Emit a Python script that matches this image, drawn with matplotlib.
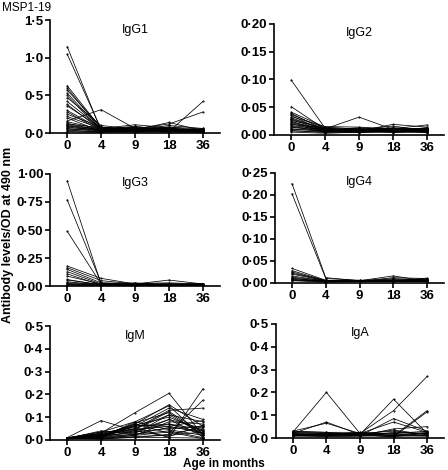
import numpy as np
import matplotlib
matplotlib.use("Agg")
import matplotlib.pyplot as plt

plt.rcParams['font.family'] = ['Liberation Sans', 'DejaVu Sans']

ages = ['0', '4', '9', '18', '36']

# one row per child: values at 0, 4, 9, 18, 36 months
igg1 = [
    [1.15, 0.03, 0.05, 0.06, 0.03], [1.05, 0.05, 0.04, 0.05, 0.02],
    [0.63, 0.06, 0.07, 0.04, 0.03], [0.60, 0.04, 0.05, 0.08, 0.05],
    [0.57, 0.08, 0.03, 0.05, 0.04], [0.53, 0.05, 0.06, 0.03, 0.02],
    [0.50, 0.03, 0.08, 0.06, 0.03], [0.47, 0.10, 0.05, 0.04, 0.05],
    [0.42, 0.06, 0.11, 0.07, 0.02], [0.38, 0.04, 0.04, 0.14, 0.03],
    [0.36, 0.07, 0.06, 0.12, 0.28], [0.30, 0.05, 0.09, 0.03, 0.04],
    [0.28, 0.03, 0.05, 0.02, 0.42], [0.25, 0.08, 0.04, 0.10, 0.06],
    [0.22, 0.06, 0.07, 0.05, 0.03], [0.20, 0.02, 0.03, 0.06, 0.02],
    [0.16, 0.31, 0.06, 0.04, 0.05], [0.15, 0.05, 0.04, 0.08, 0.03],
    [0.13, 0.03, 0.06, 0.05, 0.04], [0.12, 0.07, 0.02, 0.04, 0.02],
    [0.11, 0.04, 0.05, 0.03, 0.06], [0.10, 0.02, 0.03, 0.05, 0.02],
    [0.09, 0.06, 0.04, 0.02, 0.03], [0.08, 0.03, 0.02, 0.04, 0.01],
    [0.07, 0.05, 0.03, 0.03, 0.02], [0.06, 0.02, 0.04, 0.06, 0.01],
    [0.05, 0.04, 0.02, 0.02, 0.03], [0.04, 0.01, 0.03, 0.03, 0.01],
    [0.03, 0.02, 0.01, 0.02, 0.02], [0.02, 0.01, 0.02, 0.01, 0.01],
]
igg2 = [
    [0.099, 0.012, 0.008, 0.010, 0.012], [0.051, 0.010, 0.006, 0.008, 0.010],
    [0.041, 0.014, 0.010, 0.012, 0.008], [0.039, 0.008, 0.012, 0.006, 0.011],
    [0.037, 0.012, 0.007, 0.019, 0.014], [0.035, 0.006, 0.010, 0.009, 0.006],
    [0.033, 0.015, 0.014, 0.011, 0.018], [0.031, 0.009, 0.006, 0.007, 0.009],
    [0.029, 0.011, 0.032, 0.010, 0.012], [0.028, 0.007, 0.009, 0.016, 0.007],
    [0.026, 0.013, 0.011, 0.008, 0.013], [0.025, 0.005, 0.005, 0.006, 0.005],
    [0.023, 0.010, 0.008, 0.013, 0.010], [0.022, 0.008, 0.013, 0.009, 0.008],
    [0.020, 0.006, 0.006, 0.005, 0.006], [0.019, 0.012, 0.009, 0.011, 0.011],
    [0.017, 0.009, 0.007, 0.007, 0.009], [0.016, 0.005, 0.010, 0.012, 0.007],
    [0.014, 0.007, 0.005, 0.006, 0.012], [0.013, 0.011, 0.008, 0.008, 0.005],
    [0.011, 0.006, 0.006, 0.010, 0.008], [0.010, 0.008, 0.009, 0.005, 0.006],
    [0.008, 0.004, 0.004, 0.007, 0.004], [0.007, 0.006, 0.007, 0.004, 0.007],
    [0.005, 0.003, 0.005, 0.006, 0.005],
]
igg3 = [
    [0.94, 0.02, 0.02, 0.02, 0.02], [0.77, 0.03, 0.01, 0.02, 0.01],
    [0.49, 0.02, 0.03, 0.01, 0.02], [0.18, 0.07, 0.02, 0.055, 0.02],
    [0.165, 0.05, 0.02, 0.02, 0.015], [0.15, 0.03, 0.025, 0.03, 0.02],
    [0.13, 0.02, 0.01, 0.01, 0.01], [0.11, 0.01, 0.02, 0.02, 0.02],
    [0.09, 0.02, 0.015, 0.015, 0.01], [0.06, 0.01, 0.01, 0.01, 0.015],
    [0.055, 0.015, 0.02, 0.01, 0.01], [0.04, 0.01, 0.01, 0.015, 0.01],
    [0.03, 0.02, 0.015, 0.01, 0.02], [0.025, 0.01, 0.01, 0.01, 0.01],
    [0.02, 0.005, 0.01, 0.005, 0.01], [0.015, 0.01, 0.005, 0.01, 0.005],
    [0.01, 0.005, 0.005, 0.005, 0.005],
]
igg4 = [
    [0.226, 0.012, 0.005, 0.006, 0.008], [0.203, 0.010, 0.006, 0.005, 0.011],
    [0.033, 0.006, 0.005, 0.016, 0.004], [0.028, 0.005, 0.004, 0.012, 0.010],
    [0.025, 0.004, 0.006, 0.008, 0.005], [0.022, 0.006, 0.005, 0.006, 0.006],
    [0.020, 0.005, 0.004, 0.004, 0.009], [0.016, 0.004, 0.005, 0.005, 0.004],
    [0.013, 0.005, 0.003, 0.010, 0.006], [0.011, 0.003, 0.004, 0.004, 0.005],
    [0.010, 0.004, 0.005, 0.006, 0.003], [0.008, 0.003, 0.003, 0.003, 0.004],
    [0.007, 0.004, 0.004, 0.005, 0.006], [0.006, 0.003, 0.003, 0.004, 0.003],
    [0.005, 0.002, 0.003, 0.003, 0.004],
]
igm = [
    [0.010, 0.085, 0.040, 0.070, 0.030], [0.008, 0.030, 0.120, 0.205, 0.020],
    [0.006, 0.020, 0.070, 0.155, 0.060], [0.009, 0.035, 0.080, 0.150, 0.010],
    [0.007, 0.015, 0.060, 0.140, 0.090], [0.005, 0.025, 0.050, 0.130, 0.140],
    [0.008, 0.010, 0.075, 0.120, 0.020], [0.006, 0.040, 0.030, 0.110, 0.080],
    [0.010, 0.020, 0.065, 0.100, 0.040], [0.007, 0.012, 0.040, 0.090, 0.050],
    [0.005, 0.030, 0.055, 0.010, 0.225], [0.008, 0.018, 0.070, 0.030, 0.175],
    [0.006, 0.008, 0.020, 0.080, 0.070], [0.009, 0.022, 0.045, 0.060, 0.030],
    [0.005, 0.015, 0.035, 0.050, 0.060], [0.007, 0.010, 0.025, 0.040, 0.010],
    [0.006, 0.028, 0.060, 0.070, 0.045], [0.008, 0.005, 0.015, 0.020, 0.035],
    [0.005, 0.012, 0.080, 0.045, 0.020], [0.010, 0.020, 0.030, 0.090, 0.015],
    [0.006, 0.007, 0.010, 0.025, 0.055], [0.007, 0.016, 0.050, 0.110, 0.025],
    [0.005, 0.006, 0.020, 0.035, 0.005], [0.008, 0.025, 0.040, 0.015, 0.065],
    [0.006, 0.010, 0.065, 0.060, 0.085], [0.007, 0.004, 0.012, 0.010, 0.008],
    [0.009, 0.035, 0.045, 0.125, 0.030], [0.005, 0.014, 0.025, 0.055, 0.040],
]
iga = [
    [0.025, 0.200, 0.020, 0.010, 0.020], [0.020, 0.070, 0.015, 0.170, 0.020],
    [0.030, 0.065, 0.020, 0.120, 0.270], [0.015, 0.020, 0.010, 0.085, 0.030],
    [0.010, 0.015, 0.020, 0.070, 0.025], [0.028, 0.025, 0.025, 0.010, 0.120],
    [0.020, 0.012, 0.015, 0.005, 0.115], [0.018, 0.018, 0.010, 0.040, 0.050],
    [0.012, 0.010, 0.020, 0.030, 0.015], [0.025, 0.022, 0.015, 0.020, 0.030],
    [0.015, 0.015, 0.025, 0.015, 0.010], [0.010, 0.008, 0.010, 0.025, 0.020],
    [0.022, 0.020, 0.018, 0.012, 0.025], [0.008, 0.010, 0.012, 0.008, 0.012],
    [0.018, 0.014, 0.022, 0.018, 0.018], [0.012, 0.006, 0.008, 0.010, 0.008],
    [0.030, 0.025, 0.015, 0.035, 0.015], [0.014, 0.012, 0.014, 0.006, 0.022],
]

titles = ['IgG1', 'IgG2', 'IgG3', 'IgG4', 'IgM', 'IgA']
series = [igg1, igg2, igg3, igg4, igm, iga]
yticks = [
    [0, 0.5, 1.0, 1.5],
    [0, 0.05, 0.10, 0.15, 0.20],
    [0, 0.25, 0.50, 0.75, 1.00],
    [0, 0.05, 0.10, 0.15, 0.20, 0.25],
    [0, 0.1, 0.2, 0.3, 0.4, 0.5],
    [0, 0.1, 0.2, 0.3, 0.4, 0.5],
]
ylabels = [
    ['0·0', '0·5', '1·0', '1·5'],
    ['0·00', '0·05', '0·10', '0·15', '0·20'],
    ['0·00', '0·25', '0·50', '0·75', '1·00'],
    ['0·00', '0·05', '0·10', '0·15', '0·20', '0·25'],
    ['0·0', '0·1', '0·2', '0·3', '0·4', '0·5'],
    ['0·0', '0·1', '0·2', '0·3', '0·4', '0·5'],
]

# axes boxes in figure fractions [left, bottom, width, height]
boxes = [
    [0.112, 0.717, 0.379, 0.240], [0.612, 0.713, 0.379, 0.236],
    [0.112, 0.391, 0.379, 0.239], [0.614, 0.398, 0.377, 0.234],
    [0.112, 0.064, 0.379, 0.242], [0.616, 0.068, 0.375, 0.243],
]

fig = plt.figure(figsize=(4.48, 4.70), dpi=100)
x = np.arange(len(ages))

for box, title, data, yt, yl in zip(boxes, titles, series, yticks, ylabels):
    ax = fig.add_axes(box)
    for row in data:
        ax.plot(x, row, color='black', lw=0.55, marker='.', ms=1.0)
    ax.set_xlim(-0.5, 4.5)
    ax.set_ylim(0, yt[-1])
    ax.set_xticks(x)
    ax.set_xticklabels(ages, fontweight='bold', fontsize=9.5)
    ax.set_yticks(yt)
    ax.set_yticklabels(yl, fontweight='bold', fontsize=9.5)
    ax.spines['top'].set_visible(False)
    ax.spines['right'].set_visible(False)
    ax.spines['left'].set_linewidth(1.2)
    ax.spines['bottom'].set_linewidth(1.2)
    ax.tick_params(direction='out', length=3.5, width=1.2, pad=1.5)
    ax.text(0.5, 0.97, title, transform=ax.transAxes, ha='center', va='top', fontsize=9)

fig.text(0.005, 0.995, 'MSP1-19', ha='left', va='top', fontsize=8.5)
fig.text(0.018, 0.5, 'Antibody levels/OD at 490 nm', rotation=90, ha='center', va='center',
         fontsize=9, fontweight='bold')
fig.text(0.5, 0.0, 'Age in months', ha='center', va='bottom', fontsize=8.5, fontweight='bold')

fig.savefig('out.png', dpi=100)
